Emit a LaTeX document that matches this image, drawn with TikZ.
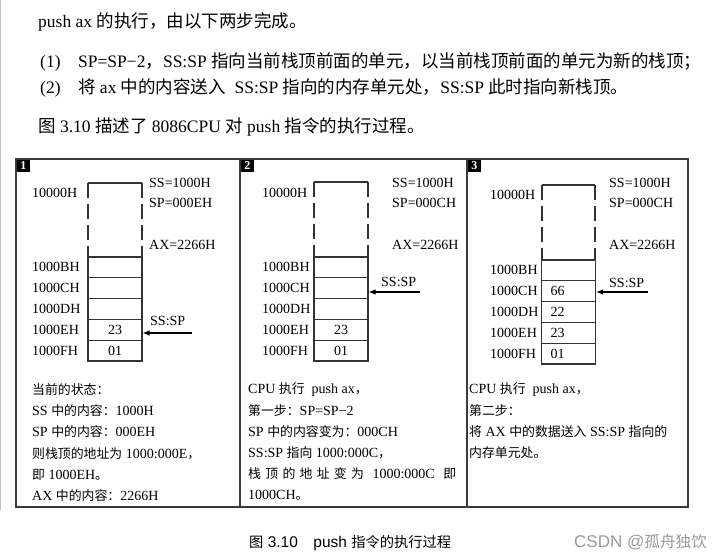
\documentclass[tikz,border=0pt]{standalone}
\usepackage{fontspec}
\setmainfont{Liberation Serif}
\newfontfamily\cjk[Scale=0.92]{Noto Sans CJK SC}
\newfontfamily\cjktop[Scale=1.0]{Noto Sans CJK SC}
\newfontfamily\capsans{Liberation Sans}
\newcommand\zh[1]{{\cjk #1}}
\newcommand\zt[1]{{\cjktop #1}}
\usetikzlibrary{arrows.meta}
\definecolor{framec}{HTML}{3A3A3A}
\definecolor{linec}{HTML}{333333}
\definecolor{wmark}{HTML}{9A9A9A}
\tikzset{
  txt/.style={anchor=west, inner sep=0pt, font=\fontsize{14}{16}\selectfont},
  toptxt/.style={anchor=west, inner sep=0pt, font=\fontsize{17.5}{20}\selectfont},
  frameln/.style={draw=framec, line width=1.4pt},
  cell/.style={draw=linec, line width=1.1pt, minimum width=54pt, minimum height=20.8pt, inner sep=0pt, font=\fontsize{14}{16}\selectfont},
  cellL/.style={draw=linec, line width=1.1pt, text width=36pt, inner xsep=9pt, inner ysep=0pt, minimum height=20.8pt, align=left, font=\fontsize{14}{16}\selectfont},
  stackln/.style={draw=linec, line width=1.1pt},
  dashside/.style={draw=linec, line width=1.1pt, dash pattern=on 15pt off 6pt},
  ptr/.style={draw=black, line width=1.1pt, -{Latex[length=7pt,width=5.5pt]}},
  numbox/.style={anchor=north west, fill=black, text=white, minimum width=13pt, minimum height=12pt, inner sep=0pt, font=\fontsize{12}{12}\selectfont\bfseries}
}
\begin{document}
\begin{tikzpicture}[x=1pt,y=-1pt]
\useasboundingbox (0,0) rectangle (727,558);
\fill[white] (0,0) rectangle (727,558);
\draw[gray!50, line width=0.8pt] (0.8,0) -- (0.8,510);

% top text
\node[toptxt] (t1) at (38,22) {push ax \zt{的执行，由以下两步完成。}};
\node[toptxt] (t2) at (40,62) {(1)\quad SP=SP−2\zt{，}SS:SP \zt{指向当前栈顶前面的单元，以当前栈顶前面的单元为新的栈顶；}};
\node[toptxt] (t3) at (40,88) {(2)\quad \zt{将} ax \zt{中的内容送入}\ \ SS:SP \zt{指向的内存单元处，}SS:SP \zt{此时指向新栈顶。}};
\node[toptxt] (t4) at (38,127) {\zt{图} 3.10 \zt{描述了} 8086CPU \zt{对} push \zt{指令的执行过程。}};

% frame
\draw[frameln] (16,159) rectangle (688,507);
\draw[frameln] (240,159) -- (240,507);
\draw[frameln] (467,159) -- (467,507);
\node[numbox] (n1) at (16.7,159.7) {1};
\node[numbox] (n2) at (240.7,159.7) {2};
\node[numbox] (n3) at (467.7,159.7) {3};

% ---------- panel 1 ----------
\draw[stackln] (88,183) -- (142,183);
\draw[dashside] (88,183) -- (88,257);
\draw[dashside] (142,183) -- (142,257);
\foreach \k/\v/\a in {1//1000BH,2//1000CH,3//1000DH,4/23/1000EH,5/01/1000FH}{
  \node[cell] (p1r\k) at (115,{257+20.8*(\k-0.5)}) {\v};
  \node[txt] (p1a\k) at (32,{257+20.8*(\k-0.5)}) {\a};
}
\node[txt] (p1top) at (32,193) {10000H};
\node[txt] (p1ss) at (149,183) {SS=1000H};
\node[txt] (p1sp) at (149,203) {SP=000EH};
\node[txt] (p1ax) at (149,245) {AX=2266H};
\node[txt] (p1lab) at (150,321) {SS:SP};
\coordinate (p1s) at (192,333);
\draw[ptr] (p1s) -- (p1r4.east |- p1s);

\node[txt] (p1b1) at (32,390) {\zh{当前的状态：}};
\node[txt] (p1b2) at (32,411) {SS \zh{中的内容：}1000H};
\node[txt] (p1b3) at (32,432) {SP \zh{中的内容：}000EH};
\node[txt] (p1b4) at (32,454) {\zh{则栈顶的地址为} 1000:000E\zh{，}};
\node[txt] (p1b5) at (32,475) {\zh{即} 1000EH\zh{。}};
\node[txt] (p1b6) at (32,496) {AX \zh{中的内容：}2266H};

% ---------- panel 2 ----------
\draw[stackln] (314,182) -- (368,182);
\draw[dashside] (314,182) -- (314,257);
\draw[dashside] (368,182) -- (368,257);
\foreach \k/\v/\a in {1//1000BH,2//1000CH,3//1000DH,4/23/1000EH,5/01/1000FH}{
  \node[cell] (p2r\k) at (341,{257+20.8*(\k-0.5)}) {\v};
  \node[txt] (p2a\k) at (262,{257+20.8*(\k-0.5)}) {\a};
}
\node[txt] (p2top) at (262,193) {10000H};
\node[txt] (p2ss) at (392,183) {SS=1000H};
\node[txt] (p2sp) at (392,203) {SP=000CH};
\node[txt] (p2ax) at (392,245) {AX=2266H};
\node[txt] (p2lab) at (381,282) {SS:SP};
\coordinate (p2s) at (420,292);
\draw[ptr] (p2s) -- (p2r2.east |- p2s);

\node[txt] (p2b1) at (248,390) {CPU \zh{执行}\ \ push ax\zh{，}};
\node[txt] (p2b2) at (248,411) {\zh{第一步：}SP=SP−2};
\node[txt] (p2b3) at (248,432) {SP \zh{中的内容变为：}000CH};
\node[txt] (p2b4) at (248,453) {SS:SP \zh{指向} 1000:000C\zh{，}};
\node[txt] (p2b5) at (248,474) {\makebox[208pt][s]{\zh{栈\hfil 顶\hfil 的\hfil 地\hfil 址\hfil 变\hfil 为}\hfil\hfil 1000:000C\hfil\hfil\zh{即}}};
\node[txt] (p2b6) at (248,495) {1000CH\zh{。}};

% ---------- panel 3 ----------
\draw[stackln] (542,185) -- (595,185);
\draw[dashside] (542,185) -- (542,260);
\draw[dashside] (595,185) -- (595,260);
\foreach \k/\v/\a in {1//1000BH,2/66/1000CH,3/22/1000DH,4/23/1000EH,5/01/1000FH}{
  \node[cellL] (p3r\k) at (568.5,{260+20.8*(\k-0.5)}) {\v};
  \node[txt] (p3a\k) at (490,{260+20.8*(\k-0.5)}) {\a};
}
\node[txt] (p3top) at (490,195) {10000H};
\node[txt] (p3ss) at (609,183) {SS=1000H};
\node[txt] (p3sp) at (609,203) {SP=000CH};
\node[txt] (p3ax) at (609,245) {AX=2266H};
\node[txt] (p3lab) at (609,283) {SS:SP};
\coordinate (p3s) at (648,292);
\draw[ptr] (p3s) -- (p3r2.east |- p3s);

\node[txt] (p3b1) at (469,390) {CPU \zh{执行}\ \ push ax\zh{，}};
\node[txt] (p3b2) at (469,411) {\zh{第二步：}};
\node[txt] (p3b3) at (469,432) {\zh{将} AX \zh{中的数据送入} SS:SP \zh{指向的}};
\node[txt] (p3b4) at (469,453) {\zh{内存单元处。}};

% caption
\node[anchor=west, inner sep=0pt, font=\capsans\fontsize{15.5}{17}\selectfont] (cap) at (249,543) {\zh{图} 3.10\quad push \zh{指令的执行过程}};
\node[anchor=west, inner sep=0pt, text=wmark, font=\capsans\fontsize{17}{19}\selectfont] (wm) at (574,542) {CSDN @\zh{孤舟独饮}};
\end{tikzpicture}
\end{document}
